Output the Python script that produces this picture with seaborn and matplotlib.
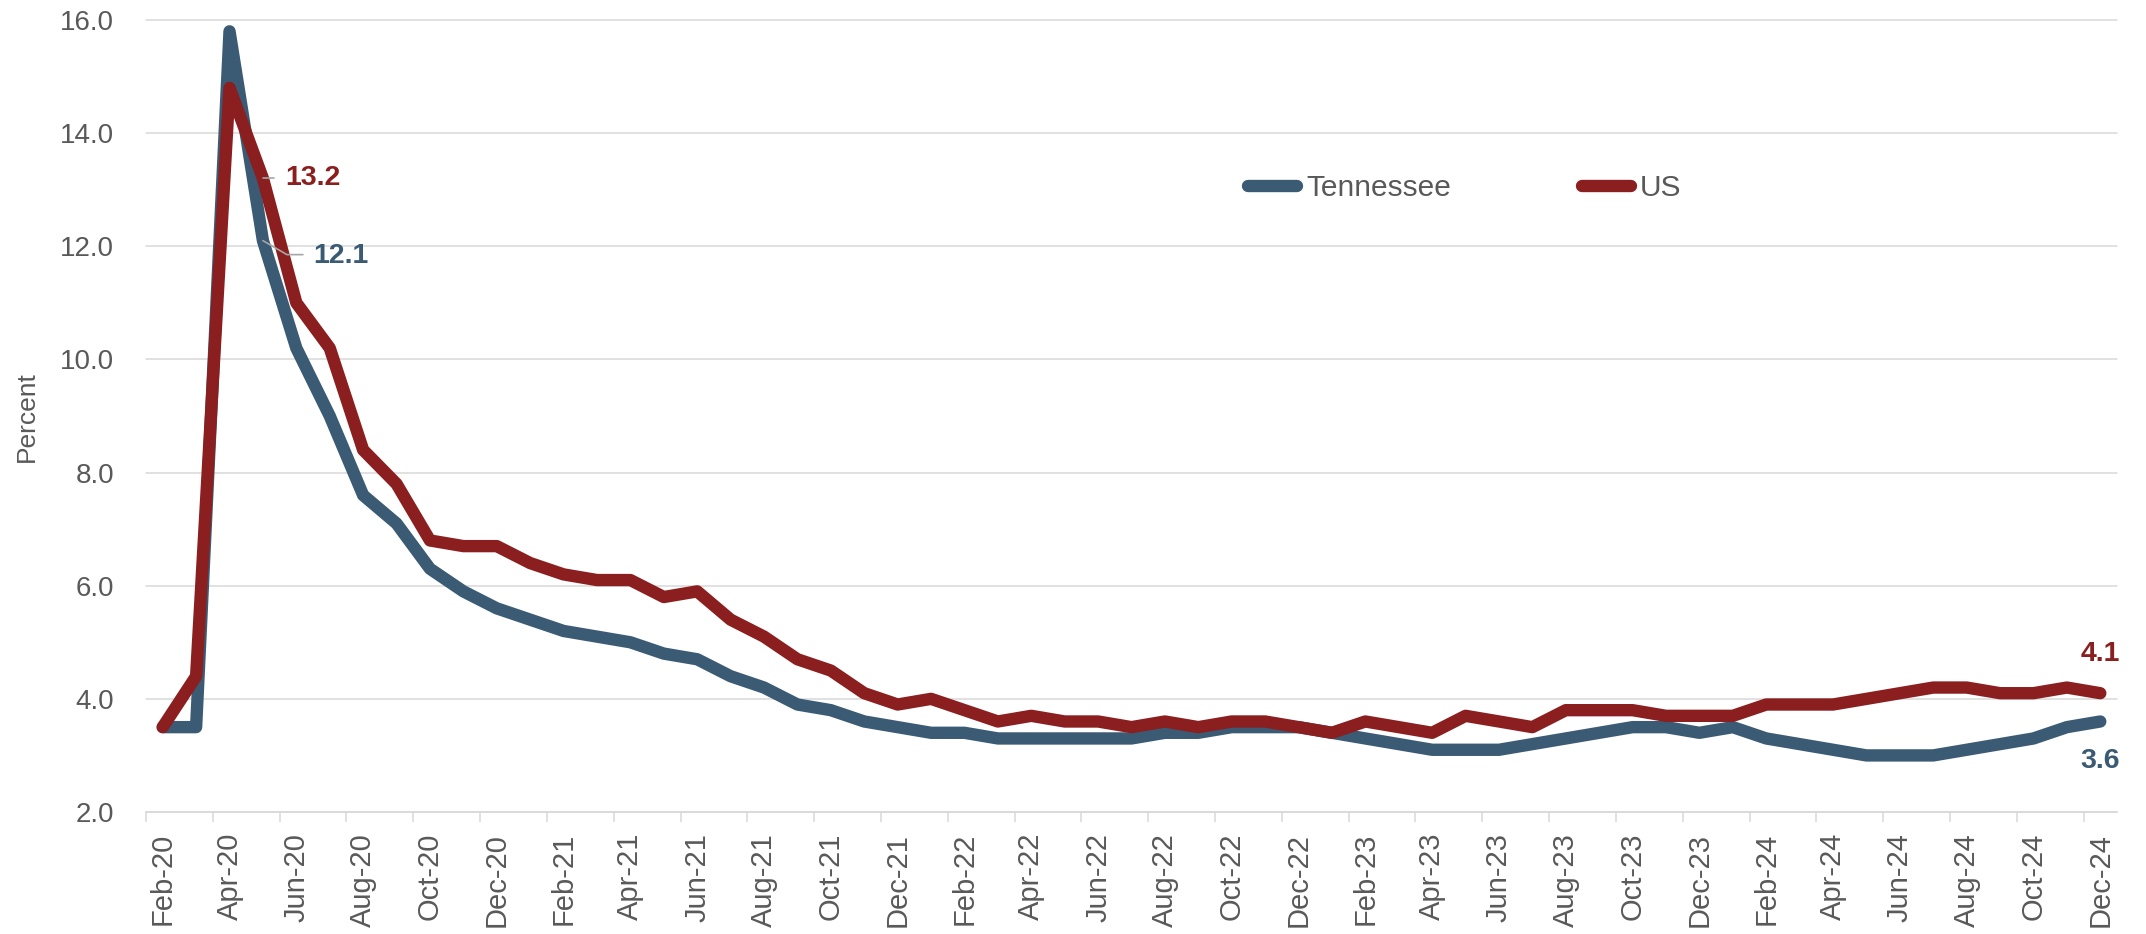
import numpy as np
import pandas as pd
import seaborn as sns
import matplotlib.pyplot as plt
from matplotlib.lines import Line2D

# Monthly unemployment rate (percent), Feb 2020 - Dec 2024
months = [
    "Feb-20", "Mar-20", "Apr-20", "May-20", "Jun-20", "Jul-20", "Aug-20", "Sep-20", "Oct-20", "Nov-20", "Dec-20",
    "Jan-21", "Feb-21", "Mar-21", "Apr-21", "May-21", "Jun-21", "Jul-21", "Aug-21", "Sep-21", "Oct-21", "Nov-21", "Dec-21",
    "Jan-22", "Feb-22", "Mar-22", "Apr-22", "May-22", "Jun-22", "Jul-22", "Aug-22", "Sep-22", "Oct-22", "Nov-22", "Dec-22",
    "Jan-23", "Feb-23", "Mar-23", "Apr-23", "May-23", "Jun-23", "Jul-23", "Aug-23", "Sep-23", "Oct-23", "Nov-23", "Dec-23",
    "Jan-24", "Feb-24", "Mar-24", "Apr-24", "May-24", "Jun-24", "Jul-24", "Aug-24", "Sep-24", "Oct-24", "Nov-24", "Dec-24",
]
tennessee = [
    3.5, 3.5, 15.8, 12.1, 10.2, 9.0, 7.6, 7.1, 6.3, 5.9, 5.6,
    5.4, 5.2, 5.1, 5.0, 4.8, 4.7, 4.4, 4.2, 3.9, 3.8, 3.6, 3.5,
    3.4, 3.4, 3.3, 3.3, 3.3, 3.3, 3.3, 3.4, 3.4, 3.5, 3.5, 3.5,
    3.4, 3.3, 3.2, 3.1, 3.1, 3.1, 3.2, 3.3, 3.4, 3.5, 3.5, 3.4,
    3.5, 3.3, 3.2, 3.1, 3.0, 3.0, 3.0, 3.1, 3.2, 3.3, 3.5, 3.6,
]
us = [
    3.5, 4.4, 14.8, 13.2, 11.0, 10.2, 8.4, 7.8, 6.8, 6.7, 6.7,
    6.4, 6.2, 6.1, 6.1, 5.8, 5.9, 5.4, 5.1, 4.7, 4.5, 4.1, 3.9,
    4.0, 3.8, 3.6, 3.7, 3.6, 3.6, 3.5, 3.6, 3.5, 3.6, 3.6, 3.5,
    3.4, 3.6, 3.5, 3.4, 3.7, 3.6, 3.5, 3.8, 3.8, 3.8, 3.7, 3.7,
    3.7, 3.9, 3.9, 3.9, 4.0, 4.1, 4.2, 4.2, 4.1, 4.1, 4.2, 4.1,
]
series_names = ["Tennessee", "US"]
y_ticks = [2.0, 4.0, 6.0, 8.0, 10.0, 12.0, 14.0, 16.0]

TN_COLOR = "#3B5A73"
US_COLOR = "#8B1E1F"
GRID = "#D9D9D9"
TEXT = "#595959"
LEADER = "#A6A6A6"

sns.set_theme(style="white")
plt.rcParams["font.family"] = ["Liberation Sans", "DejaVu Sans"]

df = pd.DataFrame({
    "idx": np.arange(len(months)),
    "month": months,
    "Tennessee": tennessee,
    "US": us,
})
long = df.melt(id_vars=["idx", "month"], value_vars=series_names,
               var_name="series", value_name="rate")

W, H = 2146, 934
fig = plt.figure(figsize=(W / 100, H / 100), dpi=100)
ax = fig.add_axes([146 / W, 1 - 812 / H, (2117 - 146) / W, (812 - 20) / H])

sns.lineplot(data=long, x="idx", y="rate", hue="series", hue_order=series_names,
             palette={"Tennessee": TN_COLOR, "US": US_COLOR},
             linewidth=8.9, ax=ax, legend=False, sort=False)
for ln in ax.get_lines():
    ln.set_solid_capstyle("round")
    ln.set_solid_joinstyle("round")
    ln.set_clip_on(False)

ax.set_xlim(-0.5, len(months) - 0.5)
ax.set_ylim(2, 16)

# y axis
ax.set_yticks(y_ticks)
ax.set_yticklabels([f"{v:.1f}" for v in y_ticks])
ax.tick_params(axis="y", length=0, pad=23, labelsize=20, labelcolor=TEXT)
ax.yaxis.grid(True, color=GRID, linewidth=1.1)
ax.xaxis.grid(False)
for gl in ax.get_ygridlines():
    gl.set_clip_on(False)

# x axis: labels every other month, tick marks between categories
ax.set_xticks(np.arange(0, len(months), 2))
ax.set_xticklabels(months[::2], rotation=90)
ax.set_xticks(np.arange(-0.5, len(months) - 1, 2), minor=True)
ax.tick_params(axis="x", which="major", length=0, pad=15, labelsize=21, labelcolor=TEXT)
ax.tick_params(axis="x", which="minor", length=7.2, width=1.1, color=GRID, bottom=True)

for side in ["left", "right", "top"]:
    ax.spines[side].set_visible(False)
ax.spines["bottom"].set_color(GRID)
ax.spines["bottom"].set_linewidth(1.1)
ax.set_xlabel("")
ax.set_ylabel("")

fig.text(27 / W, 1 - 417 / H, "Percent", rotation=90, ha="center", va="center",
         fontsize=19, color=TEXT)

# legend
handles = [Line2D([], [], color=TN_COLOR, linewidth=8.9, solid_capstyle="round"),
           Line2D([], [], color=US_COLOR, linewidth=8.9, solid_capstyle="round")]
ax.legend(handles, series_names, loc="center left",
          bbox_to_anchor=(1248 / W, 1 - 188 / H), bbox_transform=fig.transFigure,
          ncol=2, frameon=False, fontsize=21.5, labelcolor=TEXT,
          handlelength=1.64, handletextpad=0.3, columnspacing=4.4,
          borderpad=0, borderaxespad=0)


def to_data(x, y, dx, dy):
    """Shift a data point by a pixel offset and return data coordinates."""
    px, py = ax.transData.transform((x, y))
    return ax.transData.inverted().transform((px + dx, py + dy))


def leader(x, y, offsets):
    pts = [to_data(x, y, dx, dy) for dx, dy in offsets]
    ax.plot([p[0] for p in pts], [p[1] for p in pts], color=LEADER,
            linewidth=1.2, zorder=5, clip_on=False)


i_may = months.index("May-20")
i_last = len(months) - 1
label_kw = dict(fontsize=20.5, fontweight="bold", textcoords="offset pixels")

# May-20 labels with leader lines
leader(i_may, us[i_may], [(0, 0), (11, 0)])
ax.annotate(f"{us[i_may]:.1f}", xy=(i_may, us[i_may]), xytext=(22, 0),
            ha="left", va="center", color=US_COLOR, **label_kw)
leader(i_may, tennessee[i_may], [(0, 0), (24, -14), (40, -14)])
ax.annotate(f"{tennessee[i_may]:.1f}", xy=(i_may, tennessee[i_may]), xytext=(50, -15),
            ha="left", va="center", color=TN_COLOR, **label_kw)

# Dec-24 labels
ax.annotate(f"{us[i_last]:.1f}", xy=(i_last, us[i_last]), xytext=(0, 39),
            ha="center", va="center", color=US_COLOR, **label_kw)
ax.annotate(f"{tennessee[i_last]:.1f}", xy=(i_last, tennessee[i_last]), xytext=(0, -40),
            ha="center", va="center", color=TN_COLOR, **label_kw)

fig.savefig("out.png", dpi=100, facecolor="white")
